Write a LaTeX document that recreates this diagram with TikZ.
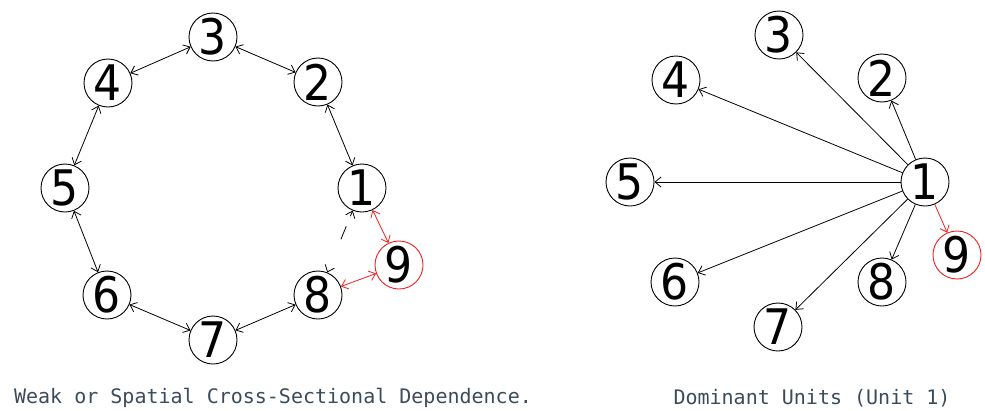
\documentclass[tikz,border=0pt]{standalone}
\usepackage{fontspec}
\setmainfont{DejaVu Sans Condensed}
\setmonofont{DejaVu Sans Mono}
\usetikzlibrary{arrows.meta}
\definecolor{captioncol}{HTML}{3C4B5C}
\definecolor{redc}{HTML}{F02020}
\tikzset{
  unit/.style={draw=black, line width=0.9pt, circle, minimum size=48pt, inner sep=0pt, font=\fontsize{49}{49}\selectfont},
  redunit/.style={unit, draw=redc},
  tip/.tip={Straight Barb[length=6pt,width=10pt,line width=0.8pt]},
  edge/.style={line width=0.8pt, black},
  bi/.style={edge, tip-tip},
  one/.style={edge, -tip},
  rededge/.style={edge, redc},
  caption/.style={font=\ttfamily\fontsize{20}{20}\selectfont, text=captioncol, inner sep=0pt}
}
\begin{document}
\begin{tikzpicture}[x=1pt, y=-1pt]
\useasboundingbox (0,0) rectangle (985,410);
% left diagram
\node[unit] (L1) at (362,188) {1};
\node[unit] (L2) at (318,82) {2};
\node[unit] (L3) at (213,37) {3};
\node[unit] (L4) at (108,83) {4};
\node[unit] (L5) at (65,188) {5};
\node[unit] (L6) at (107,295) {6};
\node[unit] (L7) at (213,340) {7};
\node[unit] (L8) at (318,295) {8};
\node[redunit] (L9) at (399,265) {9};
\draw[bi] (L3) -- (L2);
\draw[bi] (L3) -- (L4);
\draw[bi] (L4) -- (L5);
\draw[bi] (L5) -- (L6);
\draw[bi] (L6) -- (L7);
\draw[bi] (L7) -- (L8);
\draw[bi] (L2) -- (L1);
\draw[bi, dash pattern=on 5pt off 11pt on 14pt off 40pt] (L1) -- (L8);
\draw[rededge, tip-tip] (L1) -- (L9);
\draw[rededge, tip-tip] (L9) -- (L8);
\node[caption] (capL) at (273,398) {Weak or Spatial Cross-Sectional Dependence.};
% right diagram
\node[unit] (R1) at (925,182) {1};
\node[unit] (R2) at (882,78) {2};
\node[unit] (R3) at (779,35) {3};
\node[unit] (R4) at (676,80) {4};
\node[unit] (R5) at (630,182) {5};
\node[unit] (R6) at (675,282) {6};
\node[unit] (R7) at (778,327) {7};
\node[unit] (R8) at (882,282) {8};
\node[redunit] (R9) at (957,255) {9};
\foreach \t in {2,3,4,5,6,7,8}{\draw[one] (R1) -- (R\t);}
\draw[rededge, -tip] (R1) -- (R9);
\node[caption] (capR) at (812,398) {Dominant Units (Unit 1)};
\end{tikzpicture}
\end{document}
